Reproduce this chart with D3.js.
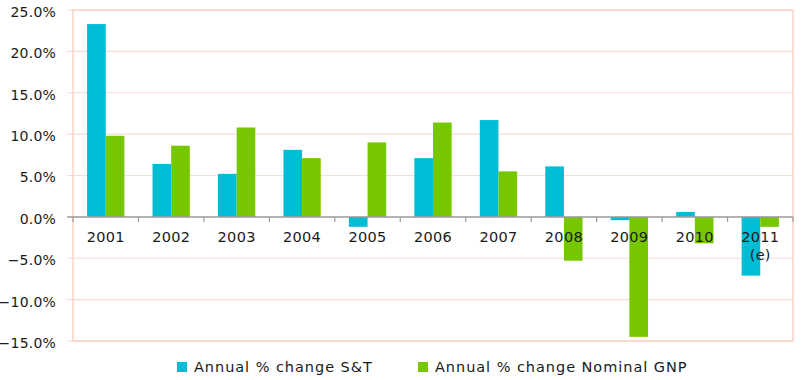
<!DOCTYPE html>
<html>
<head>
<meta charset="utf-8">
<script src="https://cdn.jsdelivr.net/npm/d3@7"></script>
<style>
  body { margin: 0; background: #fff; }
  text { font-family: "DejaVu Sans", Verdana, sans-serif; fill: #1a1a1a; }
</style>
</head>
<body>
<div id="chart"></div>
<script>
// data
const years = ["2001", "2002", "2003", "2004", "2005", "2006", "2007", "2008", "2009", "2010", "2011"];
const yearNotes = ["", "", "", "", "", "", "", "", "", "", "(e)"];
const stChange = [23.3, 6.4, 5.2, 8.1, -1.2, 7.1, 11.7, 6.1, -0.4, 0.6, -7.1];
const gnpChange = [9.8, 8.6, 10.8, 7.1, 9.0, 11.4, 5.5, -5.3, -14.5, -3.2, -1.2];
const seriesNames = ["Annual % change S&T", "Annual % change Nominal GNP"];
const seriesColors = ["#00bdd6", "#77c700"];
const yTicks = [-15, -10, -5, 0, 5, 10, 15, 20, 25];

const width = 803, height = 380;
const margin = {top: 10, right: 10, bottom: 39, left: 73};
const plotW = width - margin.left - margin.right,
    plotH = height - margin.top - margin.bottom;

const svg = d3.select("#chart")
    .append("svg")
    .attr("width", width)
    .attr("height", height);

const g = svg.append("g")
    .attr("transform", `translate(${margin.left}, ${margin.top})`);

const x = d3.scaleBand()
    .domain(years)
    .range([0, plotW])
    .paddingInner(0)
    .paddingOuter(0);

const x1 = d3.scaleBand()
    .domain([0, 1])
    .range([x.bandwidth() * 0.215, x.bandwidth() * 0.785]);

const y = d3.scaleLinear()
    .domain([-15, 25])
    .range([plotH, 0]);

// grid lines (with short ticks left of the frame)
g.append("g")
    .selectAll("line")
    .data(yTicks.filter(d => d !== 0))
    .join("line")
    .attr("x1", -6)
    .attr("x2", plotW)
    .attr("y1", d => y(d))
    .attr("y2", d => y(d))
    .attr("stroke", "#f6dcd6")
    .attr("stroke-width", 1.2);

// frame
g.append("rect")
    .attr("x", 0)
    .attr("y", 0)
    .attr("width", plotW)
    .attr("height", plotH)
    .attr("fill", "none")
    .attr("stroke", "#f8d3c4")
    .attr("stroke-width", 1.5);

// y labels
g.append("g")
    .selectAll("text")
    .data(yTicks)
    .join("text")
    .attr("x", -17)
    .attr("y", d => y(d) + 2)
    .attr("dy", "0.35em")
    .attr("text-anchor", "end")
    .style("font-size", "14px")
    .style("letter-spacing", "0.2px")
    .text(d => d3.format(".1f")(d) + "%");

// bars
const groups = g.append("g")
    .selectAll("g")
    .data(years.map((yr, i) => ({yr, vals: [stChange[i], gnpChange[i]]})))
    .join("g")
    .attr("transform", d => `translate(${x(d.yr)},0)`);

groups.selectAll("rect")
    .data(d => d.vals.map((v, k) => ({v, k})))
    .join("rect")
    .attr("x", d => x1(d.k))
    .attr("width", x1.bandwidth())
    .attr("y", d => y(Math.max(0, d.v)))
    .attr("height", d => Math.abs(y(d.v) - y(0)))
    .attr("fill", d => seriesColors[d.k]);

// zero axis with category ticks
g.append("line")
    .attr("x1", -6)
    .attr("x2", plotW)
    .attr("y1", y(0))
    .attr("y2", y(0))
    .attr("stroke", "#9a9a9a")
    .attr("stroke-width", 1.5);

g.append("g")
    .selectAll("line")
    .data(years.concat(["end"]))
    .join("line")
    .attr("x1", (d, i) => i * x.bandwidth())
    .attr("x2", (d, i) => i * x.bandwidth())
    .attr("y1", y(0))
    .attr("y2", y(0) + 5)
    .attr("stroke", "#9a9a9a")
    .attr("stroke-width", 1.2);

// category labels
const labels = g.append("g")
    .selectAll("text")
    .data(years)
    .join("text")
    .attr("x", d => x(d) + x.bandwidth() / 2)
    .attr("y", y(0) + 25)
    .attr("text-anchor", "middle")
    .style("font-size", "14.5px")
    .style("letter-spacing", "0.3px");
labels.append("tspan").text(d => d);
labels.append("tspan")
    .attr("x", d => x(d) + x.bandwidth() / 2)
    .attr("dy", 18)
    .text((d, i) => yearNotes[i]);

// legend
const legendX = [177, 418];
const legend = svg.append("g")
    .selectAll("g")
    .data(seriesNames)
    .join("g")
    .attr("transform", (d, i) => `translate(${legendX[i]}, 362)`);
legend.append("rect")
    .attr("width", 10)
    .attr("height", 10)
    .attr("fill", (d, i) => seriesColors[i]);
legend.append("text")
    .attr("x", 17)
    .attr("y", 10)
    .style("font-size", "14.5px")
    .style("letter-spacing", "0.95px")
    .text(d => d);
</script>
</body>
</html>
